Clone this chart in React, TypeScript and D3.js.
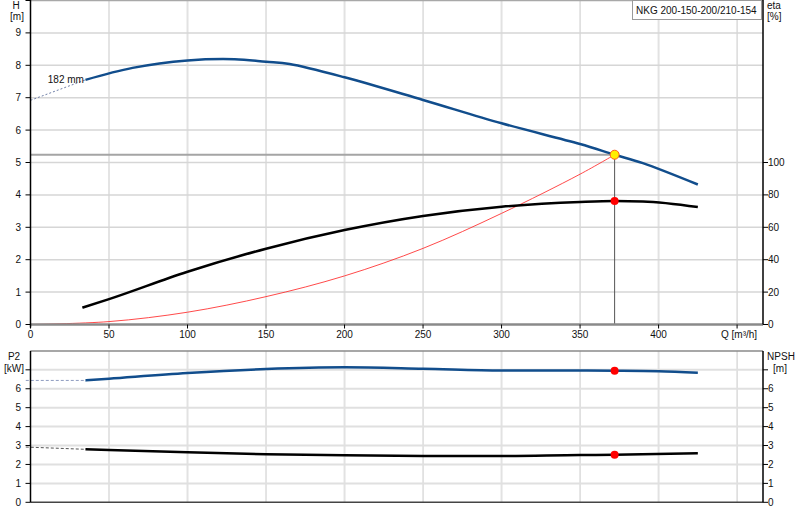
import * as React from 'react'
import * as d3 from 'd3'

// pump curve (H, m)
const qHead = [35, 65, 100, 130, 150, 165, 200, 250, 300, 350, 372, 390, 425]
const headVals = [7.55, 7.92, 8.15, 8.19, 8.11, 8.04, 7.63, 6.93, 6.21, 5.57, 5.24, 4.98, 4.32]
const qHeadExt = [0, 35]
const headExt = [6.92, 7.55]

// efficiency (%)
const qEta = [33, 50, 100, 150, 200, 250, 300, 350, 372, 390, 425]
const etaVals = [10.4, 15.7, 32.6, 46.8, 58.3, 67, 72.7, 75.6, 76.2, 76, 72.5]

// system curve
const qSys = [0, 50, 100, 150, 200, 250, 300, 350, 372]
const sysVals = [0, 0.09, 0.38, 0.86, 1.5, 2.35, 3.43, 4.64, 5.24]

// power P2 (kW)
const qP2 = [35, 50, 100, 150, 200, 250, 300, 350, 372, 400, 425]
const p2Vals = [6.44, 6.53, 6.83, 7.04, 7.13, 7.06, 6.97, 6.96, 6.95, 6.92, 6.84]
const qP2Ext = [-3, 35]
const p2Ext = [6.44, 6.44]

// NPSH (m)
const qNpsh = [35, 50, 100, 150, 200, 250, 300, 350, 372, 425]
const npshVals = [2.8, 2.76, 2.64, 2.54, 2.48, 2.45, 2.45, 2.5, 2.51, 2.59]
const qNpshExt = [-3, 35]
const npshExt = [2.92, 2.8]

const opQ = 372
const opH = 5.24
const opEta = 76.2
const opP2 = 6.95
const opNpsh = 2.51

const qTicks = [0, 50, 100, 150, 200, 250, 300, 350, 400]
const qGrid = [50, 100, 150, 200, 250, 300, 350, 400, 450]
const hTicks = [0, 1, 2, 3, 4, 5, 6, 7, 8, 9]
const etaTicks = [0, 20, 40, 60, 80, 100]
const lowTicks = [0, 1, 2, 3, 4, 5, 6]

const pumpName = 'NKG 200-150-200/210-154'
const impeller = '182 mm'

const FONT = '"Liberation Sans", Arial, sans-serif'
const BLUE = '#114d8c'

const zip = (xs: number[], ys: number[]) => xs.map((x, i) => [x, ys[i]] as [number, number])

export default function App() {
  const x = d3.scaleLinear().domain([0, 466.5]).range([30.5, 763])
  const yH = d3.scaleLinear().domain([0, 10]).range([324.5, 0.5])
  const yEta = d3.scaleLinear().domain([0, 200]).range([324.5, 0.5])
  const yLow = d3.scaleLinear().domain([0, 8]).range([502.3, 350.9])

  const smooth = d3.curveCatmullRom.alpha(0.5)
  const lineH = d3.line<[number, number]>().x(d => x(d[0])).y(d => yH(d[1])).curve(smooth)
  const lineEta = d3.line<[number, number]>().x(d => x(d[0])).y(d => yEta(d[1])).curve(d3.curveMonotoneX)
  const lineLow = d3.line<[number, number]>().x(d => x(d[0])).y(d => yLow(d[1])).curve(d3.curveMonotoneX)

  const left = x(0)
  const right = x.range()[1]

  const gridV = (top: number, bottom: number) =>
    qGrid.map(q => (
      <line key={'v' + q + top} x1={x(q)} x2={x(q)} y1={top} y2={bottom}
        stroke={q % 100 === 0 ? '#e2e2e2' : '#c9c9c9'} strokeWidth={q % 100 === 0 ? 2 : 1} />
    ))

  return (
    <svg width={800} height={520} style={{ position: 'absolute', left: 0, top: 0, background: '#fff' }}
      fontFamily={FONT} fontSize={10}>
      {/* top panel grid */}
      {gridV(yH(10), yH(0))}
      {d3.range(1, 10).map(h => (
        <line key={'h' + h} x1={left} x2={right} y1={yH(h)} y2={yH(h)} stroke="#d6d6d6" strokeWidth={1.5} />
      ))}
      <line x1={left} x2={right} y1={yH(10)} y2={yH(10)} stroke="#a8a8a8" strokeWidth={1.5} />

      {/* operating point guides */}
      <line x1={left} x2={x(opQ)} y1={yH(opH)} y2={yH(opH)} stroke="#a5a5a5" strokeWidth={2} />
      <line x1={x(opQ)} x2={x(opQ)} y1={yH(opH)} y2={yH(0)} stroke="#555" strokeWidth={1} />

      {/* curves */}
      <path d={lineH(zip(qSys, sysVals)) || ''} fill="none" stroke="#ff2a2a" strokeWidth={1} opacity={0.85} />
      <path d={lineEta(zip(qEta, etaVals)) || ''} fill="none" stroke="#000" strokeWidth={2.5} />
      <path d={lineH(zip(qHeadExt, headExt)) || ''} fill="none" stroke="#7080a8" strokeWidth={1} strokeDasharray="2,2" />
      <path d={lineH(zip(qHead, headVals)) || ''} fill="none" stroke={BLUE} strokeWidth={2.5} />
      <text x={x(11)} y={yH(7.45)} fill="#111">{impeller}</text>

      <circle cx={x(opQ)} cy={yEta(opEta)} r={4} fill="#ff0000" />
      <circle cx={x(opQ)} cy={yH(opH)} r={4.5} fill="#ffee00" stroke="#ff5a1e" strokeWidth={1} />

      {/* top axes */}
      <line x1={left} x2={right} y1={yH(0)} y2={yH(0)} stroke="#8a8a8a" strokeWidth={2.5} />
      <line x1={left} x2={left} y1={0} y2={yH(0) + 3} stroke="#000" strokeWidth={1.5} />
      <line x1={right} x2={right} y1={0} y2={yH(0)} stroke="#000" strokeWidth={1.5} />
      {hTicks.map(h => (
        <g key={'ht' + h}>
          <line x1={left - 5} x2={left} y1={yH(h)} y2={yH(h)} stroke="#000" />
          <text x={21} y={yH(h) + 3.5} textAnchor="end" fill="#111">{h}</text>
        </g>
      ))}
      <line x1={left - 5} x2={left} y1={yH(10)} y2={yH(10)} stroke="#000" />
      {etaTicks.map(e => (
        <g key={'et' + e}>
          <line x1={right} x2={right + 5} y1={yEta(e)} y2={yEta(e)} stroke="#000" />
          <text x={768} y={yEta(e) + 3.5} fill="#111">{e}</text>
        </g>
      ))}
      {qTicks.map(q => (
        <g key={'qt' + q}>
          <line x1={x(q)} x2={x(q)} y1={yH(0)} y2={yH(0) + 4} stroke="#000" />
          <text x={x(q)} y={338} textAnchor="middle" fill="#111">{q}</text>
        </g>
      ))}
      <line x1={x(450)} x2={x(450)} y1={yH(0)} y2={yH(0) + 4} stroke="#000" />
      <text x={721} y={338} fill="#111">Q [m³/h]</text>
      <text x={16} y={9} textAnchor="middle" fill="#111">H</text>
      <text x={17} y={20} textAnchor="middle" fill="#111">[m]</text>
      <text x={767} y={9} fill="#111">eta</text>
      <text x={767} y={20} fill="#111">[%]</text>

      <rect x={632.5} y={0.5} width={129} height={19} fill="#fff" stroke="#9a9a9a" />
      <text x={636} y={13.5} fill="#111">{pumpName}</text>

      {/* bottom panel grid */}
      {gridV(yLow(8), yLow(0))}
      {d3.range(1, 8).map(v => (
        <line key={'lh' + v} x1={left} x2={right} y1={yLow(v)} y2={yLow(v)} stroke="#e0e0e0" strokeWidth={2} />
      ))}
      <line x1={left} x2={right} y1={yLow(8)} y2={yLow(8)} stroke="#8a8a8a" strokeWidth={1.5} />

      <path d={lineLow(zip(qP2Ext, p2Ext)) || ''} fill="none" stroke="#8e9cc0" strokeWidth={1} strokeDasharray="3,2" />
      <path d={lineLow(zip(qP2, p2Vals)) || ''} fill="none" stroke={BLUE} strokeWidth={2.5} />
      <path d={lineLow(zip(qNpshExt, npshExt)) || ''} fill="none" stroke="#555" strokeWidth={1} strokeDasharray="3,2" />
      <path d={lineLow(zip(qNpsh, npshVals)) || ''} fill="none" stroke="#000" strokeWidth={2.5} />
      <circle cx={x(opQ)} cy={yLow(opP2)} r={4} fill="#ff0000" />
      <circle cx={x(opQ)} cy={yLow(opNpsh)} r={4} fill="#ff0000" />

      {/* bottom axes */}
      <line x1={left} x2={right} y1={yLow(0)} y2={yLow(0)} stroke="#444" strokeWidth={1.5} />
      <line x1={left} x2={left} y1={yLow(8)} y2={yLow(0)} stroke="#000" strokeWidth={1.5} />
      <line x1={right} x2={right} y1={yLow(8)} y2={yLow(0)} stroke="#000" strokeWidth={1.5} />
      {d3.range(0, 8).map(v => (
        <g key={'lt' + v}>
          <line x1={left - 5} x2={left} y1={yLow(v)} y2={yLow(v)} stroke="#000" />
          <line x1={right} x2={right + 5} y1={yLow(v)} y2={yLow(v)} stroke="#000" />
        </g>
      ))}
      {lowTicks.map(v => (
        <g key={'ll' + v}>
          <text x={21} y={yLow(v) + 3.5} textAnchor="end" fill="#111">{v}</text>
          <text x={768} y={yLow(v) + 3.5} fill="#111">{v}</text>
        </g>
      ))}
      <text x={14} y={360} textAnchor="middle" fill="#111">P2</text>
      <text x={14} y={371.5} textAnchor="middle" fill="#111">[kW]</text>
      <text x={781} y={360} textAnchor="middle" fill="#111">NPSH</text>
      <text x={780} y={371.5} textAnchor="middle" fill="#111">[m]</text>
    </svg>
  )
}
